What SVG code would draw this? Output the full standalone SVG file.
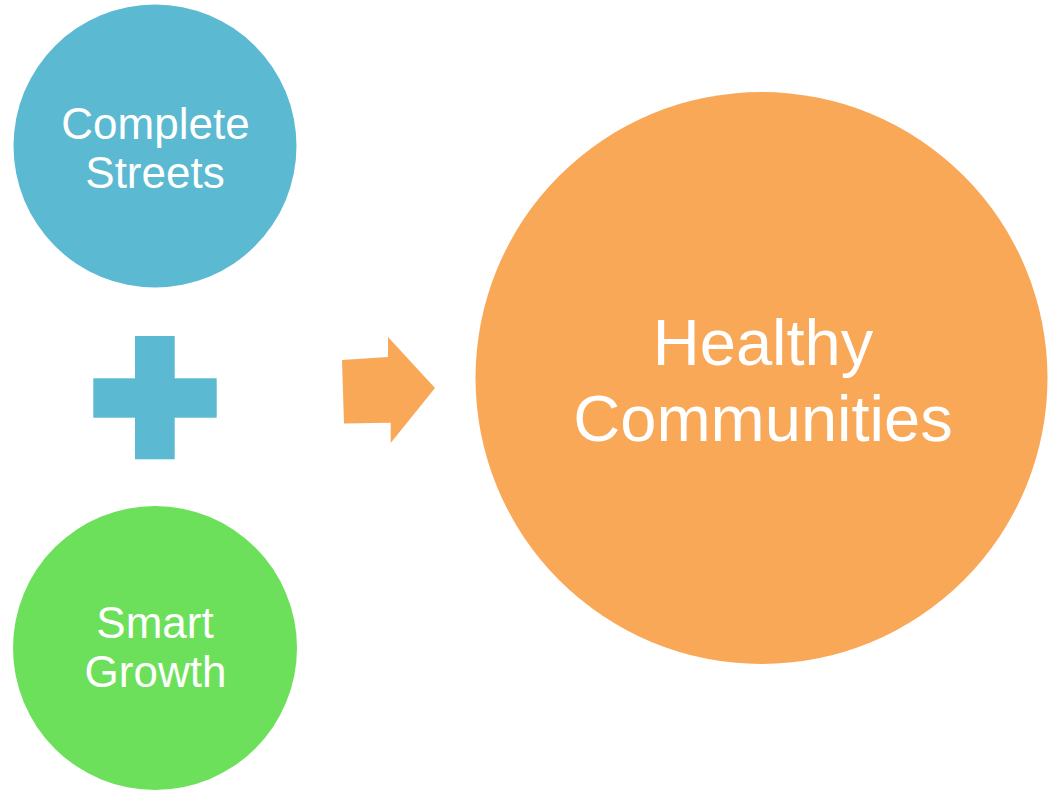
<svg xmlns="http://www.w3.org/2000/svg" width="1056" height="790" viewBox="0 0 1056 790">
<style>
.lbl{font-family:"Liberation Sans",Arial,sans-serif;fill:#ffffff;text-anchor:middle}
.s{font-size:44px}
.b{font-size:65px}
</style>
<rect width="1056" height="790" fill="#ffffff"/>
<g id="complete-streets">
<circle cx="155" cy="146" r="141.5" fill="#5BB9D1"/>
<text class="lbl s" x="155.5" y="139">Complete</text>
<text class="lbl s" x="155" y="188">Streets</text>
</g>
<g id="plus">
<rect x="93.3" y="378.3" width="123.4" height="39.4" fill="#5BB9D1"/>
<rect x="135" y="336" width="39.7" height="123.3" fill="#5BB9D1"/>
</g>
<g id="smart-growth">
<circle cx="155" cy="648" r="142" fill="#6DE05B"/>
<text class="lbl s" x="155" y="638">Smart</text>
<text class="lbl s" x="155.5" y="687">Growth</text>
</g>
<g id="connectors">
<polygon points="342,360 388,357 388,337 435,388 390.7,443 390.7,422.7 344,423.5" fill="#F9A857"/>
</g>
<g id="healthy-communities">
<circle cx="761.5" cy="378" r="286" fill="#F9A857"/>
<text class="lbl b" x="763" y="365">Healthy</text>
<text class="lbl b" x="763" y="441">Communities</text>
</g>
</svg>
